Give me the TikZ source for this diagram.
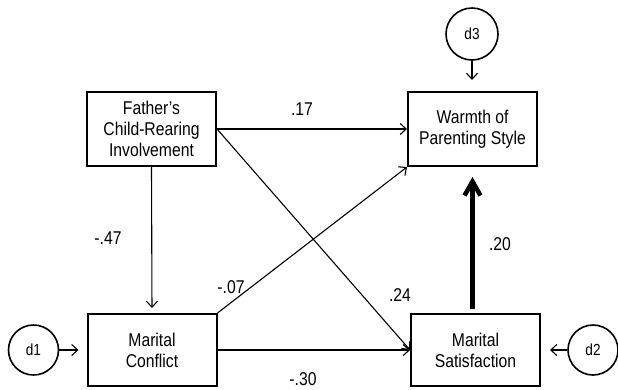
\documentclass[tikz,border=0pt]{standalone}
\usepackage{fontspec}
\setmainfont{Liberation Sans}[FakeStretch=0.85]
\usetikzlibrary{arrows.meta}
\begin{document}
\begin{tikzpicture}[x=1pt,y=-1pt,
  every node/.style={font=\fontsize{18.5}{21}\selectfont},
  var/.style={draw,rectangle,line width=2pt,align=center,minimum width=129pt,minimum height=74pt,inner sep=0pt},
  err/.style={draw,circle,line width=1.6pt,minimum size=50pt,inner sep=0pt,font=\fontsize{16}{18}\selectfont},
  eff/.style={-{Straight Barb[length=6pt,width=11pt]},line width=1.1pt},
  big/.style={-{Straight Barb[length=14pt,width=16pt]},line width=4.5pt}]
\useasboundingbox (0,0) rectangle (618,389);
\node[var] (father) at (151.5,129) {Father's\\Child-Rearing\\Involvement};
\node[var] (warmth) at (472.5,129) {Warmth of\\Parenting Style};
\node[var,minimum height=72pt] (conflict) at (152,350) {Marital\\Conflict};
\node[var,minimum height=72pt] (satisf) at (475.5,350) {Marital\\Satisfaction};
\node[err] (d1) at (33.5,350) {d1};
\node[err] (d2) at (593,350) {d2};
\node[err,minimum size=52pt] (d3) at (472,34) {d3};
\draw[eff,shorten >=11pt] (d3) -- (d3 |- warmth.north);
\draw[eff,shorten >=8pt] (d1) -- (conflict);
\draw[eff,shorten >=9pt] (d2) -- (satisf);
\draw[eff] (father.east) -- (warmth.west);
\draw[eff] (father.east) -- (satisf.west);
\draw[eff] (conflict.north east) -- (warmth.south west);
\draw[eff,shorten >=5pt] (father.south) -- (conflict.north);
\draw[eff] (conflict.east) -- (satisf.west);
\draw[big,shorten <=4pt,shorten >=10pt] (satisf.north -| warmth.south) -- (warmth.south);
\node (l17) at (302,109) {.17};
\node (l47) at (108,238) {-.47};
\node (l07) at (231,287) {-.07};
\node (l24) at (400,295) {.24};
\node (l20) at (500,244) {.20};
\node (l30) at (303,379) {-.30};
\end{tikzpicture}
\end{document}
